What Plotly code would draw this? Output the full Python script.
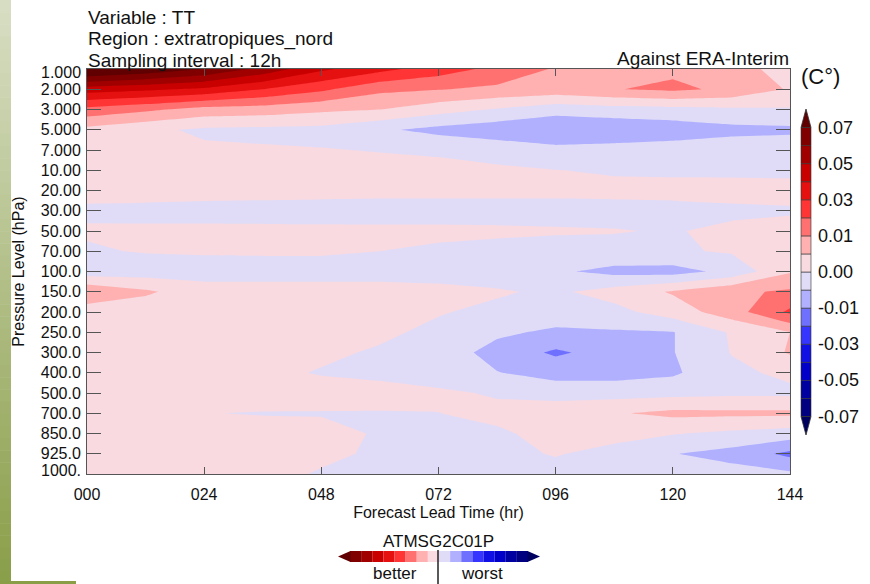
import numpy as np
import plotly.graph_objects as go

# ---- data -------------------------------------------------------------
lead_hours = [0, 12, 24, 36, 48, 60, 72, 84, 96, 108, 120, 132, 144]
x_tick_vals = [0, 24, 48, 72, 96, 120, 144]
x_tick_text = ["000", "024", "048", "072", "096", "120", "144"]

pressure_labels = ["1.000", "2.000", "3.000", "5.000", "7.000", "10.00", "20.00",
                   "30.00", "50.00", "70.00", "100.0", "150.0", "200.0", "250.0",
                   "300.0", "400.0", "500.0", "700.0", "850.0", "925.0", "1000."]

# temperature score difference (C) per pressure level, one value per lead time
tt_1 = [0.085, 0.078, 0.070, 0.057, 0.042, 0.033, 0.025, 0.017, 0.0095, 0.009, 0.009, 0.007, 0.003]
tt_2 = [0.045, 0.042, 0.038, 0.030, 0.022, 0.0125, 0.0105, 0.009, 0.008, 0.0098, 0.012, 0.009, 0.0045]
tt_3 = [0.017, 0.012, 0.008, 0.0075, 0.006, 0.005, 0.002, -0.0005, -0.003, -0.002, -0.0015, -0.0008, -0.0005]
tt_5 = [0.0035, 0.001, -0.0008, -0.0012, -0.0015, -0.0042, -0.0065, -0.008, -0.0095, -0.009, -0.008, -0.0065, -0.006]
tt_7 = [0.002, 0.002, 0.0008, 0.0005, 0.0002, -0.0002, -0.0007, -0.002, -0.0035, -0.003, -0.0025, -0.002, -0.002]
tt_10 = [0.002, 0.002, 0.002, 0.0018, 0.0016, 0.0015, 0.0013, 0.0008, 0.0001, -0.0005, -0.0008, -0.001, -0.0012]
tt_20 = [0.0015, 0.0015, 0.0013, 0.0012, 0.0011, 0.001, 0.001, 0.001, 0.001, 0.0012, 0.0015, 0.0018, 0.0018]
tt_30 = [-0.0008, -0.001, -0.0012, -0.0013, -0.0014, -0.0015, -0.0015, -0.0015, -0.0015, -0.0015, -0.0015, -0.001, -0.0006]
tt_50 = [0.0005, 0.0006, 0.0007, 0.0007, 0.0007, 0.0007, 0.0007, 0.0006, 0.0004, 0.0002, -0.0003, 0.001, 0.002]
tt_70 = [-0.0005, 0.0003, 0.0005, 0.0006, 0.0006, 0.0, -0.0005, -0.001, -0.0015, -0.0012, -0.0006, 0.0005, 0.0012]
tt_100 = [-0.003, -0.0025, -0.002, -0.002, -0.002, -0.002, -0.0022, -0.0025, -0.0042, -0.0065, -0.007, -0.0035, 0.0045]
tt_150 = [0.0095, 0.0058, 0.002, 0.002, 0.002, 0.002, 0.0015, 0.0005, -0.0008, 0.002, 0.0055, 0.009, 0.0115]
tt_200 = [0.002, 0.002, 0.002, 0.002, 0.002, 0.0015, 0.0003, -0.001, -0.002, -0.0015, 0.0024, 0.0076, 0.022]
tt_250 = [0.002, 0.002, 0.002, 0.002, 0.0018, 0.0008, -0.001, -0.004, -0.006, -0.0055, -0.0052, 0.0005, 0.005]
tt_300 = [0.002, 0.002, 0.002, 0.0018, 0.0008, -0.0005, -0.002, -0.007, -0.0115, -0.008, -0.0052, 0.0002, 0.0055]
tt_400 = [0.002, 0.002, 0.0015, 0.001, -0.0003, -0.001, -0.0025, -0.0048, -0.007, -0.007, -0.0058, -0.001, 0.001]
tt_500 = [0.002, 0.002, 0.002, 0.002, 0.0018, 0.0015, 0.0008, -0.0005, -0.002, -0.002, -0.0015, -0.001, -0.001]
tt_700 = [0.001, 0.0008, 0.0001, -0.0002, -0.0002, -0.0002, -0.00005, 0.0012, 0.003, 0.0045, 0.0062, 0.006, 0.006]
tt_850 = [0.002, 0.002, 0.002, 0.0015, 0.001, -0.0003, -0.0015, -0.0007, 0.0015, 0.001, 0.0003, -0.001, -0.0022]
tt_925 = [0.002, 0.002, 0.002, 0.0015, 0.0007, -0.0005, -0.001, -0.0008, 0.0002, -0.001, -0.0048, -0.0068, -0.0125]
tt_1000 = [0.002, 0.002, 0.0018, 0.001, -0.0003, -0.001, -0.001, -0.001, -0.001, -0.001, -0.0015, -0.003, -0.004]

rows = [tt_1, tt_2, tt_3, tt_5, tt_7, tt_10, tt_20, tt_30, tt_50, tt_70, tt_100,
        tt_150, tt_200, tt_250, tt_300, tt_400, tt_500, tt_700, tt_850, tt_925, tt_1000]

# contour boundaries (C) and fill colours, lowest band first
levels = [-0.07, -0.06, -0.05, -0.04, -0.03, -0.02, -0.01, -0.005, 0.0,
          0.005, 0.01, 0.02, 0.03, 0.04, 0.05, 0.06, 0.07]
level_labels = ["-0.07", "-0.05", "-0.03", "-0.01", "0.00", "0.01", "0.03", "0.05", "0.07"]
band_colors = ["#000060", "#000080", "#0000a0", "#0000c8", "#1010e5", "#3535ff",
               "#7070ff", "#b0b0ff", "#e0dcf8", "#f8dae0", "#ffb0b0", "#ff7070",
               "#ff3535", "#e51010", "#c80000", "#a00000", "#800000", "#600000"]

# ---- geometry helpers (pixels -> paper) --------------------------------
W, H = 870, 584
L, R, T, B = 87, 80, 69, 110
PW, PH = W - L - R, H - T - B


def xp(px):
    return (px - L) / PW


def yp(py):
    return (H - B - py) / PH


# ---- map values onto the uneven contour levels --------------------------
z = np.array(rows, dtype=float)
lv = np.array(levels)
idx = np.arange(len(levels), dtype=float)
z_idx = np.where(z > lv[-1], idx[-1] + (z - lv[-1]) / 0.01,
                 np.where(z < lv[0], (z - lv[0]) / 0.01, np.interp(z, lv, idx)))

n = len(levels)  # 17 boundaries -> 18 bands
colorscale = []
for k in range(n - 1):
    colorscale.append([k / n, band_colors[k]])
    colorscale.append([(k + 1) / n, band_colors[k]])
colorscale.append([(n - 1) / n, band_colors[n - 1]])
colorscale.append([(n - 0.25) / n, band_colors[n - 1]])
colorscale.append([(n - 0.25) / n, band_colors[n]])
colorscale.append([1.0, band_colors[n]])

font_family = "Liberation Sans, Arial, sans-serif"
ink = "#111111"
frame = "#555555"

fig = go.Figure()
fig.add_trace(go.Contour(
    x=lead_hours,
    y=list(range(len(pressure_labels))),
    z=z_idx,
    colorscale=colorscale,
    contours=dict(start=0, end=n - 1, size=1, coloring="fill", showlines=False),
    line=dict(width=0, smoothing=0),
    hoverinfo="skip",
    showscale=False,
))

# end labels are drawn a little inside the frame, as the plot package does
y_tick_text = [""] + pressure_labels[1:-1] + [""]

fig.update_xaxes(
    range=[0, 144], tickmode="array", tickvals=x_tick_vals, ticktext=x_tick_text,
    ticks="inside", ticklen=7, tickwidth=1, tickcolor=frame,
    showline=True, linecolor=frame, linewidth=1, mirror="ticks",
    showgrid=False, zeroline=False, ticklabelstandoff=6,
    tickfont=dict(size=16, color=ink, family=font_family),
    title=dict(text="Forecast Lead Time (hr)", standoff=4,
               font=dict(size=16, color=ink, family=font_family)),
)
fig.update_yaxes(
    range=[len(pressure_labels) - 1, 0], tickmode="array",
    tickvals=list(range(len(pressure_labels))), ticktext=y_tick_text,
    ticks="inside", ticklen=14, tickwidth=1, tickcolor=frame,
    showline=True, linecolor=frame, linewidth=1, mirror="ticks",
    showgrid=False, zeroline=False, ticklabelstandoff=2,
    tickfont=dict(size=16, color=ink, family=font_family),
    title=dict(text="Pressure Level (hPa)", standoff=12,
               font=dict(size=16, color=ink, family=font_family)),
)

shapes = []


def tri_path(pts):
    return "M " + " L ".join(f"{xp(a)},{yp(b)}" for a, b in pts) + " Z"


# slide frame: green gradient strip on the left, bar at the bottom
top_rgb = np.array([216, 222, 196])
bot_rgb = np.array([137, 158, 72])
n_strip = 48
for i in range(n_strip):
    f = (i + 0.5) / n_strip
    c = (top_rgb * (1 - f) + bot_rgb * f).round().astype(int)
    shapes.append(dict(type="rect", xref="paper", yref="paper", layer="above",
                       x0=xp(0), x1=xp(11), y0=yp(H * i / n_strip), y1=yp(H * (i + 1) / n_strip + 0.5),
                       fillcolor=f"rgb({c[0]},{c[1]},{c[2]})", line=dict(width=0)))
shapes.append(dict(type="rect", xref="paper", yref="paper", layer="above",
                   x0=xp(0), x1=xp(76), y0=yp(584), y1=yp(581),
                   fillcolor="#8a9e48", line=dict(width=0)))

# vertical colour key with pointed ends
cb_x0, cb_x1 = 801, 811
cb_top, cb_bot = 127.5, 416.5
cb_tip = 18.5
cb_cell = (cb_bot - cb_top) / (n - 1)
cb_xm = (cb_x0 + cb_x1) / 2
for k in range(1, n):  # bands between consecutive boundaries, top = highest
    y1 = cb_bot - (k - 1) * cb_cell
    y0 = cb_bot - k * cb_cell
    shapes.append(dict(type="rect", xref="paper", yref="paper",
                       x0=xp(cb_x0), x1=xp(cb_x1), y0=yp(y1), y1=yp(y0),
                       fillcolor=band_colors[k], line=dict(color="#333333", width=0.6)))
shapes.append(dict(type="path", xref="paper", yref="paper",
                   path=tri_path([(cb_x0, cb_top), (cb_xm, cb_top - cb_tip), (cb_x1, cb_top)]),
                   fillcolor=band_colors[-1], line=dict(color="#333333", width=0.8)))
shapes.append(dict(type="path", xref="paper", yref="paper",
                   path=tri_path([(cb_x0, cb_bot), (cb_xm, cb_bot + cb_tip), (cb_x1, cb_bot)]),
                   fillcolor=band_colors[0], line=dict(color="#333333", width=0.8)))

# "better / worst" key under the axis title
kx0, kx1, ky0, ky1 = 350, 528, 551, 562
cell = (kx1 - kx0) / 16
key_colors = band_colors[::-1]  # dark red ... dark blue
for i in range(16):
    shapes.append(dict(type="rect", xref="paper", yref="paper",
                       x0=xp(kx0 + i * cell), x1=xp(kx0 + (i + 1) * cell),
                       y0=yp(ky1), y1=yp(ky0), fillcolor=key_colors[i + 1],
                       line=dict(width=0)))
ym = (ky0 + ky1) / 2
shapes.append(dict(type="path", xref="paper", yref="paper",
                   path=tri_path([(kx0 - 12, ym), (kx0 + 0.5, ky0), (kx0 + 0.5, ky1)]),
                   fillcolor=key_colors[0], line=dict(width=0)))
shapes.append(dict(type="path", xref="paper", yref="paper",
                   path=tri_path([(kx1 + 12, ym), (kx1 - 0.5, ky0), (kx1 - 0.5, ky1)]),
                   fillcolor=key_colors[-1], line=dict(width=0)))
shapes.append(dict(type="line", xref="paper", yref="paper",
                   x0=xp(438), x1=xp(438), y0=yp(550), y1=yp(584),
                   line=dict(color="#222222", width=1.5)))

annotations = []


def text(s, x, y, size, xanchor="left"):
    annotations.append(dict(text=s, x=xp(x), y=yp(y), xref="paper", yref="paper",
                            xanchor=xanchor, yanchor="middle", showarrow=False,
                            font=dict(size=size, color=ink, family=font_family)))


text("Variable : TT", 86, 18, 19)
text("Region : extratropiques_nord", 86, 39, 19)
text("Sampling interval : 12h", 86, 60, 19)
text("Against ERA-Interim", 791, 59, 19, "right")
text("(C°)", 799, 76, 22)
text("ATMSG2C01P", 438, 541, 17, "center")
text("better", 395, 573, 17, "center")
text("worst", 482, 573, 17, "center")
text(pressure_labels[0], 83, 73, 16, "right")
text(pressure_labels[-1], 83, 470, 16, "right")
for j, lab in enumerate(level_labels[::-1]):
    text(lab, 816, cb_top + 2 * j * cb_cell, 18)

fig.update_layout(
    width=W, height=H,
    margin=dict(l=L, r=R, t=T, b=B, pad=0),
    paper_bgcolor="white", plot_bgcolor="white",
    shapes=shapes, annotations=annotations,
    showlegend=False,
)

fig.write_html("out.html")
